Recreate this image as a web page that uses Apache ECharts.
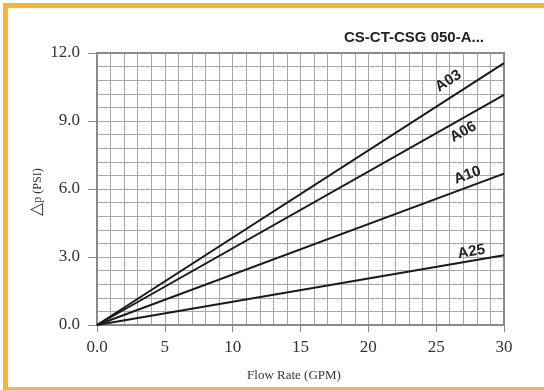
<!DOCTYPE html>
<html><head><meta charset="utf-8">
<script src="https://cdn.jsdelivr.net/npm/echarts@6/dist/echarts.min.js"></script>
<style>html,body{margin:0;padding:0;background:#fff}#c{width:544px;height:390px}</style>
</head><body><div id="c"></div>
<script>
const title = 'CS-CT-CSG 050-A...';
const flowRate = [0, 30];
const seriesNames = ['A03', 'A06', 'A10', 'A25'];
const A03 = [0, 11.55];
const A06 = [0, 10.15];
const A10 = [0, 6.68];
const A25 = [0, 3.08];
const xTicks = [0, 5, 10, 15, 20, 25, 30];
const yTicks = [0, 3, 6, 9, 12];
const labelAt = [25.9, 27.0, 27.3, 27.6];

const allSeries = [A03, A06, A10, A25];
const chart = echarts.init(document.getElementById('c'));
const serif = '"Liberation Serif", "Times New Roman", serif';
const sans = '"Liberation Sans", Arial, sans-serif';

chart.setOption({
  animation: false,
  backgroundColor: '#fff',
  grid: { left: 97, right: 40, top: 53, bottom: 65, show: true, borderColor: '#8a8a8a', borderWidth: 2, z: 3 },
  xAxis: {
    type: 'value', min: xTicks[0], max: xTicks[xTicks.length - 1], interval: 5,
    axisLine: { show: false },
    axisTick: { show: true, length: 7, lineStyle: { color: '#8a8a8a', width: 1 } },
    minorTick: { show: false, splitNumber: 5 },
    splitLine: { show: true, lineStyle: { color: '#a8a8a8', width: 1 } },
    minorSplitLine: { show: true, lineStyle: { color: '#a8a8a8', width: 1 } },
    axisLabel: { margin: 14, fontFamily: serif, fontSize: 17, color: '#333',
      formatter: v => v === 0 ? '0.0' : String(v) }
  },
  yAxis: {
    type: 'value', min: yTicks[0], max: yTicks[yTicks.length - 1], interval: 3,
    axisLine: { show: false },
    axisTick: { show: true, length: 9, lineStyle: { color: '#8a8a8a', width: 1 } },
    minorTick: { show: false, splitNumber: 5 },
    splitLine: { show: true, lineStyle: { color: '#a8a8a8', width: 1 } },
    minorSplitLine: { show: true, lineStyle: { color: '#a8a8a8', width: 1 } },
    axisLabel: { margin: 17, fontFamily: serif, fontSize: 17, color: '#333',
      formatter: v => v.toFixed(1) }
  },
  series: allSeries.map((d, i) => ({
    name: seriesNames[i], type: 'line', showSymbol: false, z: 5,
    lineStyle: { color: '#1a1a1a', width: 2 },
    data: flowRate.map((x, j) => [x, d[j]])
  }))
});

const graphics = [
  { type: 'rect', shape: { x: 5.5, y: 5.5, width: 545, height: 384 },
    style: { fill: 'none', stroke: '#FBB62B', lineWidth: 5 }, z: 10 },
  { type: 'text', x: 484, y: 38, style: { text: title, font: 'bold 15px ' + sans, fill: '#222', align: 'right', verticalAlign: 'middle' } },
  { type: 'text', x: 294, y: 376, style: { text: 'Flow Rate (GPM)', font: '13px ' + serif, fill: '#333', align: 'center', verticalAlign: 'middle' } },
  { type: 'text', x: 37, y: 192, rotation: Math.PI / 2,
    style: { text: '{t|△}{p|p (PSI)}', align: 'center', verticalAlign: 'middle',
      rich: { t: { fontFamily: serif, fontSize: 17, fill: '#333' }, p: { fontFamily: serif, fontSize: 12, fill: '#333', padding: [2, 0, 0, 0] } } } }
];

const labelDy = [18, -14, 12, 9];
allSeries.forEach((d, i) => {
  const x = labelAt[i];
  const y = d[0] + (d[1] - d[0]) * (x - flowRate[0]) / (flowRate[1] - flowRate[0]);
  const p0 = chart.convertToPixel({ gridIndex: 0 }, [flowRate[0], d[0]]);
  const p1 = chart.convertToPixel({ gridIndex: 0 }, [flowRate[1], d[1]]);
  const p = chart.convertToPixel({ gridIndex: 0 }, [x, y]);
  const ang = Math.atan2(p0[1] - p1[1], p1[0] - p0[0]);
  graphics.push({ type: 'text', x: p[0], y: p[1] - labelDy[i], rotation: ang, z: 6,
    style: { text: seriesNames[i], font: 'bold 15px ' + sans, fill: '#222', align: 'center', verticalAlign: 'middle' } });
});

chart.setOption({ graphic: graphics });
</script></body></html>
